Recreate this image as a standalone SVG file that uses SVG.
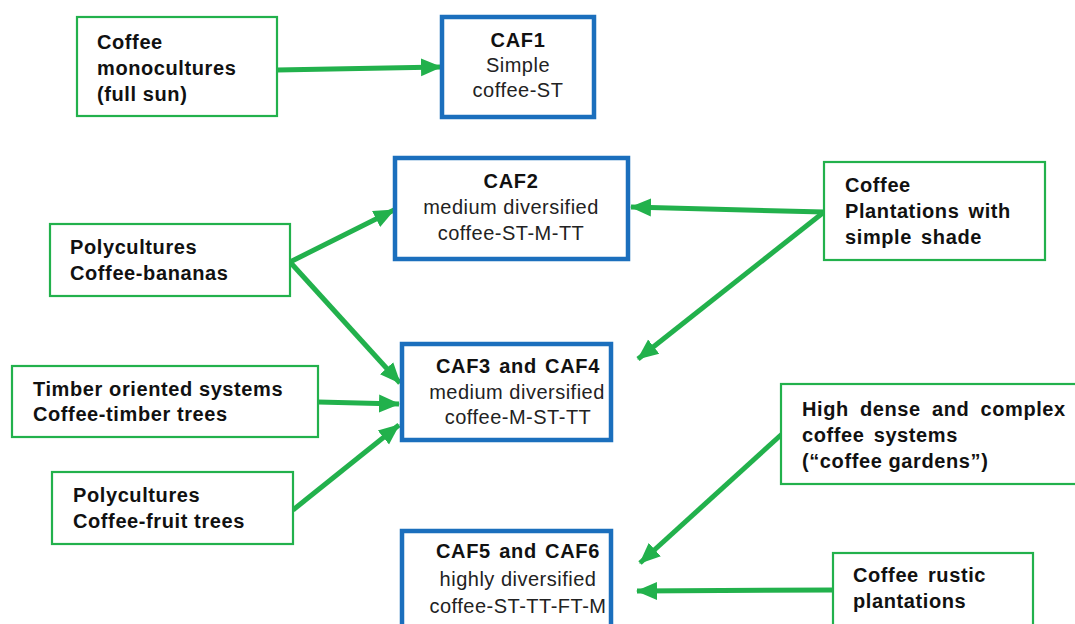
<svg xmlns="http://www.w3.org/2000/svg" width="1075" height="624" viewBox="0 0 1075 624">
<defs>
<style>
.src{fill:#fff;stroke:#22b14c;stroke-width:2.2}
.caf{fill:#fff;stroke:#1b6fbd;stroke-width:4.5}
.b{font-family:"Liberation Sans",Arial,sans-serif;font-size:20px;font-weight:bold;fill:#111;letter-spacing:0.6px}
.t{font-family:"Liberation Sans",Arial,sans-serif;font-size:20px;font-weight:bold;fill:#111;letter-spacing:0.7px;word-spacing:2px}
.r{font-family:"Liberation Sans",Arial,sans-serif;font-size:20px;fill:#222;letter-spacing:0.5px}
.c{text-anchor:middle}
.con line{stroke:#22b14c;stroke-width:5;marker-end:url(#ah)}
</style>
<marker id="ah" markerUnits="userSpaceOnUse" markerWidth="22" markerHeight="20" refX="20" refY="10" orient="auto">
<path d="M0,1 L21,10 L0,19 Z" fill="#22b14c"/>
</marker>
</defs>
<rect width="1075" height="624" fill="#fff"/>
<g id="connectors" class="con">
<line x1="277" y1="70" x2="441" y2="67"/>
<line x1="290" y1="262" x2="394" y2="210"/>
<line x1="290" y1="262" x2="400" y2="383"/>
<line x1="318" y1="402" x2="399" y2="404"/>
<line x1="293" y1="510" x2="399" y2="425"/>
<line x1="824" y1="212" x2="631" y2="207"/>
<line x1="824" y1="212" x2="638" y2="359"/>
<line x1="782" y1="434" x2="640" y2="563"/>
<line x1="833" y1="590" x2="637" y2="591"/>
</g>
<g id="monocultures">
<rect class="src" x="77" y="17" width="200" height="99"/>
<text class="b" x="97" y="49">Coffee</text>
<text class="b" x="97" y="75">monocultures</text>
<text class="b" x="97" y="101">(full sun)</text>
</g>
<g id="caf1">
<rect class="caf" x="442" y="17" width="152" height="100"/>
<text class="t c" x="518" y="47">CAF1</text>
<text class="r c" x="518" y="72">Simple</text>
<text class="r c" x="518" y="97">coffee-ST</text>
</g>
<g id="caf2">
<rect class="caf" x="395" y="158" width="233" height="101"/>
<text class="t c" x="511" y="188">CAF2</text>
<text class="r c" x="511" y="214">medium diversified</text>
<text class="r c" x="511" y="240">coffee-ST-M-TT</text>
</g>
<g id="caf3">
<rect class="caf" x="402" y="344" width="209" height="96"/>
<text class="t c" x="518" y="373">CAF3 and CAF4</text>
<text class="r c" x="517" y="399">medium diversified</text>
<text class="r c" x="518" y="424">coffee-M-ST-TT</text>
</g>
<g id="caf5">
<rect class="caf" x="402" y="531" width="209" height="100"/>
<text class="t c" x="518" y="558">CAF5 and CAF6</text>
<text class="r c" x="518" y="586">highly diversified</text>
<text class="r c" x="518" y="613">coffee-ST-TT-FT-M</text>
</g>
<g id="bananas">
<rect class="src" x="50" y="224" width="240" height="72"/>
<text class="b" x="70" y="254">Polycultures</text>
<text class="b" x="70" y="280">Coffee-bananas</text>
</g>
<g id="timber">
<rect class="src" x="12" y="366" width="306" height="71"/>
<text class="b" x="33" y="396">Timber oriented systems</text>
<text class="b" x="33" y="421">Coffee-timber trees</text>
</g>
<g id="fruit">
<rect class="src" x="52" y="472" width="241" height="72"/>
<text class="b" x="73" y="502">Polycultures</text>
<text class="b" x="73" y="528">Coffee-fruit trees</text>
</g>
<g id="simple-shade">
<rect class="src" x="824" y="162" width="221" height="98"/>
<text class="b" x="845" y="192">Coffee</text>
<text class="b" x="845" y="218" word-spacing="3">Plantations with</text>
<text class="b" x="845" y="244" word-spacing="3">simple shade</text>
</g>
<g id="gardens">
<rect class="src" x="781" y="384" width="300" height="100"/>
<text class="b" x="802" y="416" word-spacing="5">High dense and complex</text>
<text class="b" x="802" y="442" word-spacing="3">coffee systems</text>
<text class="b" x="802" y="468">(“coffee gardens”)</text>
</g>
<g id="rustic">
<rect class="src" x="833" y="553" width="200" height="80"/>
<text class="b" x="853" y="582" word-spacing="3">Coffee rustic</text>
<text class="b" x="853" y="608">plantations</text>
</g>
</svg>
